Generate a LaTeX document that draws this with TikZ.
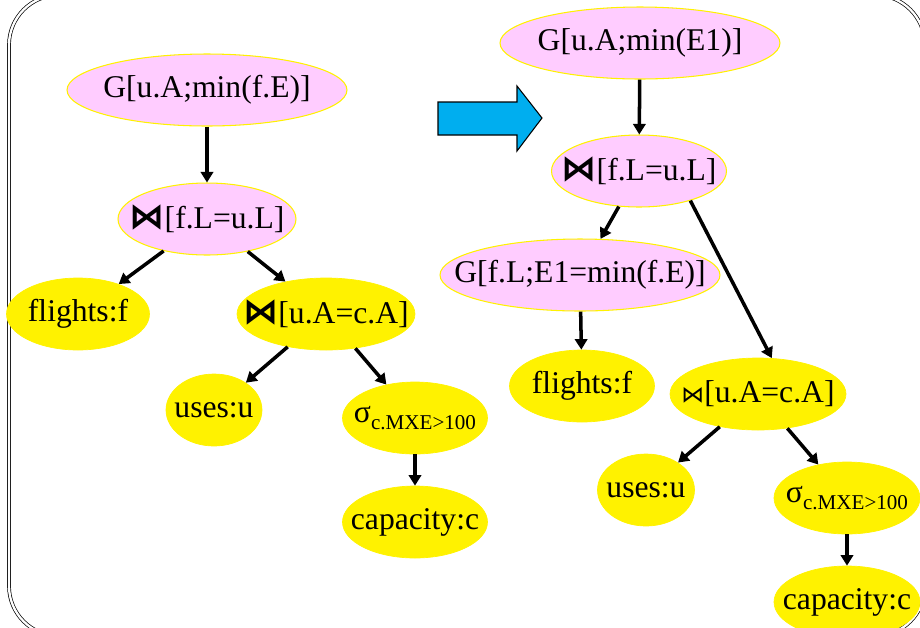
\documentclass[tikz,border=0pt]{standalone}
\usepackage{fontspec}
\setmainfont{Liberation Serif}
\newfontfamily\symfont{DejaVu Sans}
\usetikzlibrary{shapes.geometric,arrows.meta}

\definecolor{nodepink}{RGB}{255,204,255}
\definecolor{nodeyellow}{RGB}{255,242,0}
\definecolor{arrowblue}{RGB}{0,174,239}

% join symbols, the selection subscript and a label of no width
\newcommand{\bigjoin}{{\symfont\bfseries\fontsize{20}{21}\selectfont ⋈}}
\newcommand{\smalljoin}{{\symfont\fontsize{13}{14}\selectfont ⋈}}
\newcommand{\selsub}{σ\raisebox{-0.45ex}{\fontsize{12}{13}\selectfont c.MXE>100}}
\newcommand{\oplabel}[1]{\makebox[0pt]{#1}}

\begin{document}
\begin{tikzpicture}[x = 0.02cm, y = -0.02cm,
		opnode/.style = {ellipse, inner sep = 0pt, minimum height = 1.44cm,
			font = \fontsize{18}{21}\selectfont},
		pinknode/.style = {opnode, fill = nodepink, draw = nodeyellow, line width = 0.6pt},
		yellownode/.style = {opnode, fill = nodeyellow, draw = nodeyellow},
		edge/.style = {-{Triangle[length = 6pt, width = 7pt]}, line width = 2pt}]

			% Fix the page size
			\useasboundingbox (0, 0) rectangle (920, 627);
			\clip (0, 0) rectangle (920, 627);

			% Draw the frame
			\draw[double, line width = 0.4pt, double distance = 1.3pt, rounded corners = 1cm]
				(9, -5) rectangle (925, 636);

			% Left tree
			\node[pinknode, minimum width = 5.6cm] (G1) at (207, 90) {\oplabel{G[u.A;min(f.E)]}};
			\node[pinknode, minimum width = 3.56cm] (J1) at (207, 219) {\oplabel{\bigjoin[f.L=u.L]}};
			\node[yellownode, minimum width = 2.86cm] (F1) at (78, 314) {\oplabel{flights:f}};
			\node[yellownode, minimum width = 3.56cm] (J2) at (326, 314) {\oplabel{\bigjoin[u.A=c.A]}};
			\node[yellownode, minimum width = 1.92cm] (U1) at (214, 410) {\oplabel{uses:u}};
			\node[yellownode, minimum width = 2.9cm] (S1) at (415, 418) {\oplabel{\selsub}};
			\node[yellownode, minimum width = 2.9cm] (C1) at (415, 522) {\oplabel{capacity:c}};

			% Right tree
			\node[pinknode, minimum width = 5.6cm] (G2) at (640, 43) {\oplabel{G[u.A;min(E1)]}};
			\node[pinknode, minimum width = 3.5cm] (J3) at (639, 171) {\oplabel{\bigjoin[f.L=u.L]}};
			\node[pinknode, minimum width = 5.6cm] (G3) at (580, 275) {\oplabel{G[f.L;E1=min(f.E)]}};
			\node[yellownode, minimum width = 2.9cm] (F2) at (582, 386) {\oplabel{flights:f}};
			\node[yellownode, minimum width = 3.52cm] (J4) at (758, 394) {\oplabel{\smalljoin[u.A=c.A]}};
			\node[yellownode, minimum width = 1.94cm] (U2) at (646, 490) {\oplabel{uses:u}};
			\node[yellownode, minimum width = 2.92cm] (S2) at (847, 498) {\oplabel{\selsub}};
			\node[yellownode, minimum width = 2.92cm] (C2) at (847, 602) {\oplabel{capacity:c}};

			% Draw the edges
			\draw[edge] (G1) -- (J1);
			\draw[edge] (J1) -- (F1);
			\draw[edge] (J1) -- (J2);
			\draw[edge] (J2) -- (U1);
			\draw[edge] (J2) -- (S1);
			\draw[edge] (S1) -- (C1);

			\draw[edge] (G2) -- (J3);
			\draw[edge] (J3) -- (G3);
			\draw[edge] (J3.-30) -- (J4.69);
			\draw[edge] (G3) -- (F2);
			\draw[edge] (J4) -- (U2);
			\draw[edge] (J4) -- (S2);
			\draw[edge] (S2) -- (C2);

			% Draw the rewrite arrow
			\draw[fill = arrowblue, line width = 0.6pt]
				(438, 102) -- (517, 102) -- (517, 86) -- (542, 118)
				-- (517, 151) -- (517, 135) -- (438, 135) -- cycle;

		\end{tikzpicture}
\end{document}
